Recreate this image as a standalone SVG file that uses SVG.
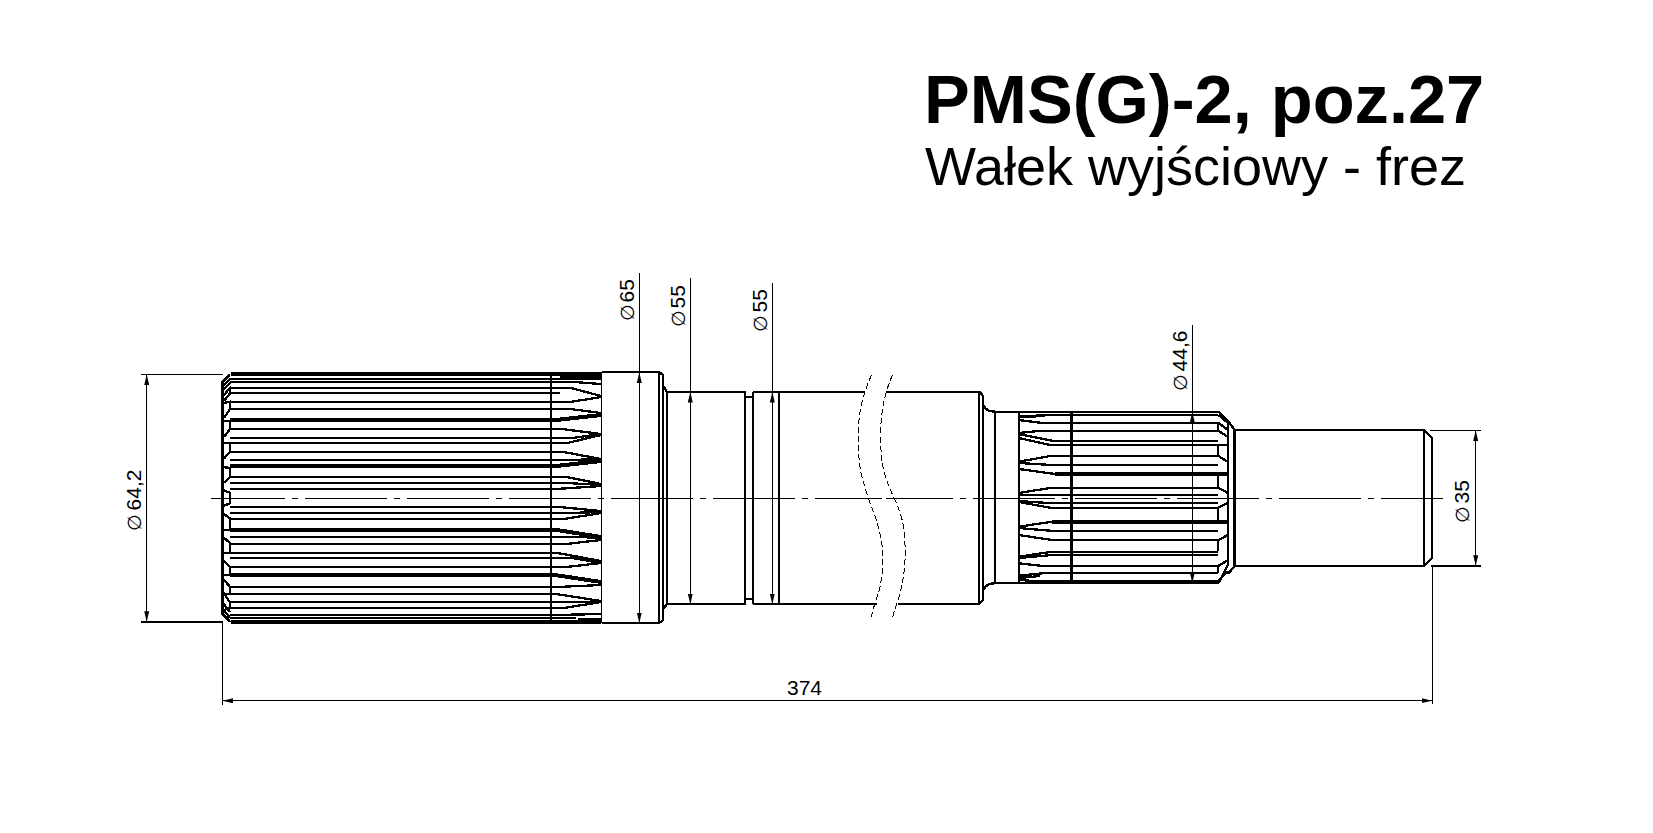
<svg xmlns="http://www.w3.org/2000/svg" width="1653" height="833" viewBox="0 0 1653 833">
<style>
.o{fill:none;stroke:#000;stroke-width:2.3}
.t{fill:none;stroke:#000;stroke-width:4}
.m{fill:none;stroke:#000;stroke-width:2.8}
.n{fill:none;stroke:#000;stroke-width:1.3}
.b{fill:none;stroke:#000;stroke-width:1;stroke-dasharray:6 3}
.c{fill:none;stroke:#000;stroke-width:1.3;stroke-dasharray:82 7 6 7}
.d{fill:none;stroke:#000;stroke-width:1.3;marker-start:url(#a);marker-end:url(#a)}
.lbl{font-family:"Liberation Sans",Arial,sans-serif;font-size:21px;fill:#000}
.phi{font-family:"DejaVu Sans",sans-serif;font-size:19px}
.h1{font-family:"Liberation Sans",Arial,sans-serif;font-size:68.6px;font-weight:bold;fill:#000}
.h2{font-family:"Liberation Sans",Arial,sans-serif;font-size:54px;fill:#000}
#shaft,#connectors{shape-rendering:crispEdges}
</style>
<defs>
<marker id="a" markerUnits="userSpaceOnUse" markerWidth="11" markerHeight="6" refX="10.5" refY="3" orient="auto-start-reverse"><path d="M0 .5L10.5 3L0 5.5z" fill="#000"/></marker>
</defs>
<rect width="1653" height="833" fill="#fff"/>
<g id="title">
<text class="h1" x="924" y="123">PMS(G)-2, poz.27</text>
<text class="h2" x="925" y="185">Wałek wyjściowy - frez</text>
</g>
<g id="shaft">
<g id="spline-left">
<path class="t" d="M231 374H601M560 376H601"/>
<path class="o" d="M230 378.7H568L601 379M230 381.7H570L601 384M230 387.7H570L601 396M230 393.3H560M230 401.7H572L601 397M230 409H570L601 413M230 429H562L601 434M230 438.3H570L601 434M230 443.3H566L601 435M230 451.7H562L601 459M230 460H570L601 459M230 476.7H565L601 484M230 483.3H572L601 485M230 489H556L601 486M230 506.7H556L601 511M230 513.3H560L601 512M230 519H564L601 513M230 536.7H572L601 538M230 544H566L601 540M230 552.7H556L601 561M230 558H572L601 563M230 567.3H564L601 563M230 586.7H564L601 585M230 594H556L601 601M230 602.3H572L601 602M230 607.7H566L601 602M230 615H556L601 614M230 618.3H576M578 619H601"/>
<path class="t" d="M230 420H556L601 415M230 466H556L601 461M230 529.7H555L601 537M230 575H555L601 582M231 621.5H601"/>
<path class="m" d="M230 375L222.6 382V614L230 622M551 374V622"/>
<path class="n" d="M601.5 372V623"/>
<path class="o" d="M223 386L230 379M223 390L230 383M223 396L230 388V393.3L224 401M223 403L230 401.7V409L224 418M223 421H230V429L224 437M223 443H230V451.7L224 458.5M223 467L230 468V476.7L224 482.7M223 490L230 492.7V503.3L224 505.7M223 513.3L230 518.3V529.7H223M223 537L230 543V552.7H223M223 560L230 567.3V575H223M223 579L230 586.7V594H223M223 592L230 602.3V607.7L224 610M223 603L230 612M223 609L230 618"/>
</g>
<g id="body">
<path class="o" d="M601.5 372H658.7L663.3 375V620L658.7 623.3H601.5M658.7 372V623.3"/>
<path class="o" d="M663.3 386L666.7 391.7H745V604.3H666.7L663.3 609M666.7 391.7V604.3M752.7 391.7H779.3M752.7 604.3H779.3M752.7 391.7V604.3M779.3 391.7V604.3M745 396.7H752.7M745 598.7H752.7"/>
<path class="o" d="M779.3 391.7H865M886 391.7H979.3L983.3 396V600L979.3 604H898M877 604H779.3M979.3 391.7V604"/>
<path class="o" d="M983.3 405Q986 411.7 995 411.7H1218.3L1228 421V565L1218.3 583.3H995Q986 583.3 983.3 590M995 411.7V583.3"/>
<path class="b" d="M871.5 375C864 392 858 410 858.5 435C858 470 862 478 869 500C876 518 880 530 882 545C884 565 882 585 876 600C873 610 871 615 871.5 620"/>
<path class="b" d="M892.5 375C885 392 881 410 880.5 435C881 470 885 478 895 500C903 518 905 530 905 545C906 565 903 585 898 600C895 610 892.5 615 892.5 620"/>
</g>
<g id="spline-right">
<path class="n" d="M1019 412V583.3"/>
<path class="m" d="M1071.7 412V583.3M1228 421V565M1234.7 430V566"/>
<path class="o" d="M1018.8 416.7L1052 414.7H1218.3M1018.8 420L1040 422.7H1218.3M1018.8 417L1045 416M1018.8 433V438L1050 445H1218.3M1018.8 433L1042 430.7H1218.3M1018.8 434L1052 440.7H1218.3M1018.8 461.7V469L1055 474M1018.8 461.7L1052 455.7H1218.3M1018.8 463L1052 465H1218.3M1018.8 493V502L1050 507.7H1218.3M1018.8 493L1052 487.7H1218.3M1018.8 495H1218.3M1018.8 501L1052 503.3H1218.3M1018.8 526.7V535L1052 540H1218.3M1018.8 526.7L1052 521.7M1018.8 528L1050 530.7H1218.3M1018.8 556.7V563.3L1043 566H1218.3M1018.8 556.7L1052 551.7H1218.3M1018.8 558L1052 555H1218.3M1018.8 575.7V580L1035 581H1218.3M1018.8 575.7L1043 573.3H1218.3M1018.8 578L1040 576"/>
<path class="t" d="M1055 474H1229M1052 521.7H1229"/>
<path class="o" d="M1218.3 415L1228 423M1218.3 422.7V430.7L1228 437M1218.3 422.7L1228 430M1228 445H1218.3V456L1228 462M1218.3 474V488L1228 493M1228 503L1218.3 507.7V522M1228 535L1218.3 540V551M1228 560L1218.3 566V573.3M1218.3 581L1228 571"/>
<path class="o" d="M1228 421L1234.7 430M1228 574L1234.7 566"/>
<path class="o" d="M1234.7 430H1424L1432 438V558L1424 565.7H1234.7M1424 430V565.7"/>
</g>
<path class="c" id="axis-left" d="M211 498.3H882" stroke-dashoffset="8"/>
<path class="c" id="axis-right" d="M886 498.3H1443" stroke-dashoffset="15"/>
</g>
<g id="connectors">
<path class="n" d="M141 374.3H223M141 622H223M222.3 622V705M1430 430.3H1481M1431 566H1481M1432.3 566V704M639.3 273V373M690.3 278V392M772.3 283V392M1192.3 325V412"/>
<path class="d" d="M146.7 374.5V621.8"/>
<path class="d" d="M639.3 372.5V623"/>
<path class="d" d="M690.3 392V604"/>
<path class="d" d="M772.3 392V604"/>
<path class="d" d="M1192.3 412V583"/>
<path class="d" d="M1475.7 430.5V565.8"/>
<path class="d" d="M222.5 700.7H1432"/>
</g>
<g id="labels">
<text class="lbl" transform="translate(140.7,531) rotate(-90)"><tspan class="phi">∅</tspan><tspan dx="4">64,2</tspan></text>
<text class="lbl" transform="translate(634.3,321) rotate(-90)"><tspan class="phi">∅</tspan><tspan dx="2">65</tspan></text>
<text class="lbl" transform="translate(685,327) rotate(-90)"><tspan class="phi">∅</tspan><tspan dx="2">55</tspan></text>
<text class="lbl" transform="translate(767.3,332) rotate(-90)"><tspan class="phi">∅</tspan><tspan dx="3">55</tspan></text>
<text class="lbl" transform="translate(1186.7,391) rotate(-90)"><tspan class="phi">∅</tspan><tspan dx="3">44,6</tspan></text>
<text class="lbl" transform="translate(1469.3,523) rotate(-90)"><tspan class="phi">∅</tspan><tspan dx="3">35</tspan></text>
<text class="lbl" x="787" y="694.5">374</text>
</g>
</svg>
